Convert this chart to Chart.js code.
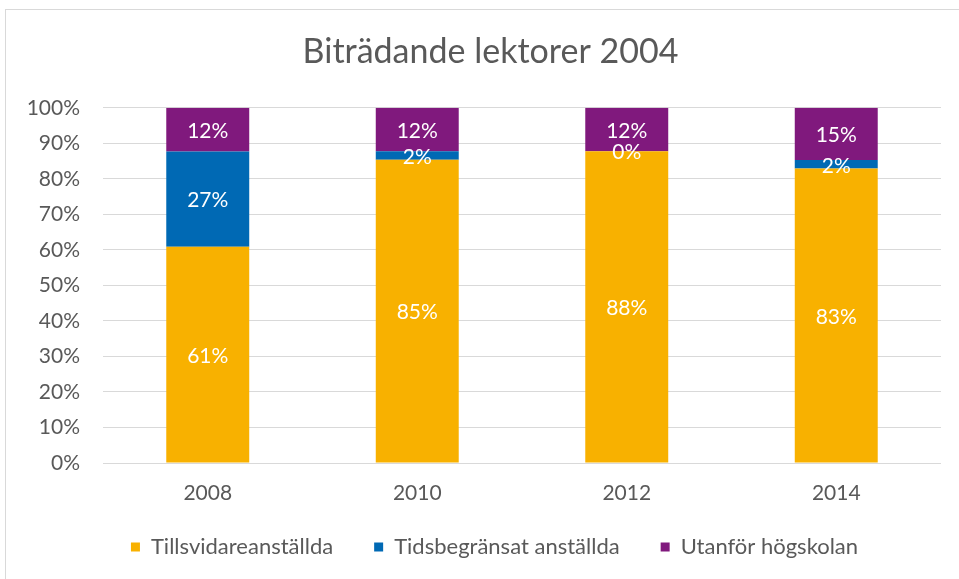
<!DOCTYPE html>
<html>
<head>
<meta charset="utf-8">
<script src="https://cdn.jsdelivr.net/npm/chart.js@4/dist/chart.umd.min.js"></script>
<style>
  html, body { margin: 0; padding: 0; background: #fff; overflow: hidden; width: 959px; height: 579px; }
  #c { position: absolute; left: 0; top: 0; }
</style>
</head>
<body>
<canvas id="c" width="984" height="579"></canvas>
<script>
const categories = ['2008', '2010', '2012', '2014'];
const seriesNames = ['Tillsvidareanställda', 'Tidsbegränsat anställda', 'Utanför högskolan'];
const permanent = [60.9, 85.4, 87.8, 82.9];
const temporary = [26.8, 2.4, 0, 2.4];
const outside = [12.3, 12.2, 12.2, 14.7];
const yTicks = [0, 10, 20, 30, 40, 50, 60, 70, 80, 90, 100];
const titleText = 'Biträdande lektorer 2004';

const FONT = "Lato, 'Open Sans', sans-serif";
const GREY = '#595959';

const frame = {
  id: 'frame',
  beforeDraw(chart) {
    const ctx = chart.ctx;
    ctx.save();
    ctx.fillStyle = '#fff';
    ctx.fillRect(0, 0, chart.width, chart.height);
    ctx.strokeStyle = '#d9d9d9';
    ctx.lineWidth = 1;
    ctx.strokeRect(5.5, 9.5, 2000, 2000);
    ctx.restore();
  }
};

// nudge title and legend boxes into the place they have in the reference
const boxPlace = {
  id: 'boxPlace',
  afterLayout(chart) {
    const lg = chart.legend;
    if (lg) {
      lg.top -= 28; lg.bottom -= 28;
      lg.left += 24; lg.right += 24;
    }
    const tb = chart.titleBlock;
    if (tb) { tb.left += 20; tb.right += 20; }
  }
};

const valueLabels = {
  id: 'valueLabels',
  afterDatasetsDraw(chart) {
    const ctx = chart.ctx;
    ctx.save();
    ctx.font = '21px ' + FONT;
    ctx.fillStyle = '#ffffff';
    ctx.textAlign = 'center';
    ctx.textBaseline = 'middle';
    chart.data.datasets.forEach((ds, i) => {
      const meta = chart.getDatasetMeta(i);
      meta.data.forEach((bar, j) => {
        const v = ds.data[j];
        const cy = (bar.y + bar.base) / 2;
        ctx.fillText(Math.round(v) + '%', bar.x, cy + 1.5);
      });
    });
    ctx.restore();
  }
};

new Chart(document.getElementById('c'), {
  type: 'bar',
  data: {
    labels: categories,
    datasets: [
      { label: seriesNames[0], data: permanent, backgroundColor: '#F8B100' },
      { label: seriesNames[1], data: temporary, backgroundColor: '#0069B4' },
      { label: seriesNames[2], data: outside, backgroundColor: '#80197D' }
    ]
  },
  options: {
    responsive: false,
    animation: false,
    layout: { padding: { left: 0, right: 43, top: 0, bottom: -17 } },
    datasets: { bar: { categoryPercentage: 1, barPercentage: 0.396, borderWidth: 0 } },
    scales: {
      x: {
        stacked: true,
        grid: { display: false, drawTicks: false },
        border: { display: false },
        ticks: { color: GREY, font: { family: FONT, size: 21, lineHeight: '8px' }, padding: 26 }
      },
      y: {
        stacked: true,
        min: 0, max: 100,
        afterBuildTicks(scale) { scale.ticks = yTicks.map(v => ({ value: v })); },
        afterFit(scale) { scale.width = 103; },
        grid: { color: '#d9d9d9', lineWidth: 1, drawTicks: false },
        border: { display: false },
        ticks: {
          color: GREY, font: { family: FONT, size: 21 }, padding: 23,
          callback: v => v + '%'
        }
      }
    },
    plugins: {
      title: {
        display: true, text: titleText, color: GREY,
        font: { family: FONT, size: 34, weight: 'normal', lineHeight: 1.2 },
        padding: { top: 32, bottom: 35 }
      },
      legend: {
        position: 'bottom',
        labels: {
          color: GREY, font: { family: FONT, size: 22 },
          boxWidth: 9, boxHeight: 9, padding: 41
        }
      },
      tooltip: { enabled: false }
    }
  },
  plugins: [frame, boxPlace, valueLabels]
});
</script>
</body>
</html>
